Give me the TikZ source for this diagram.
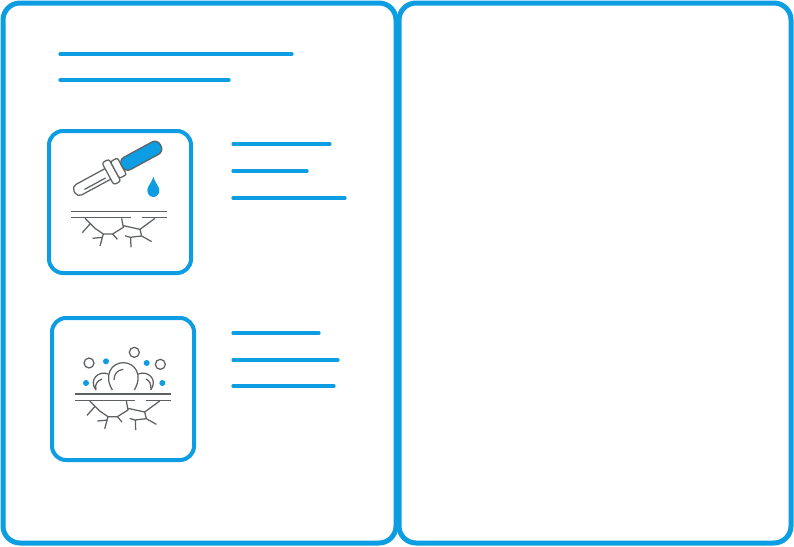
\documentclass[tikz,border=0pt]{standalone}
\definecolor{bl}{HTML}{0D9DE2}
\definecolor{gy}{HTML}{5E6163}
\tikzset{
  frame/.style={draw=bl,line width=5pt,rounded corners=17pt},
  iconbox/.style={draw=bl,line width=4pt,rounded corners=14pt},
  bar/.style={draw=bl,line width=3.2pt,line cap=round},
  ink/.style={draw=gy,line width=1.25pt},
  crack/.pic={
    \draw[ink,line width=1.4pt] (92,274)--(380,274) (92,293)--(272,293) (305,293)--(380,293);
    \draw[ink,line join=round] (135,295)--(165,325)--(190,342)--(218,342)--(250,322)--(245,295)
      (250,317)--(300,328)--(345,295)
      (150,312)--(127,338)
      (190,342)--(180,378) (158,355)--(188,352)
      (218,342)--(232,358)
      (300,328)--(305,348)--(270,352)--(255,347)
      (305,348)--(335,365)
      (272,352)--(273,382);
  }
}
\begin{document}
\begin{tikzpicture}[x=1pt,y=-1pt]
\useasboundingbox (0,0) rectangle (794,546);
\fill[white] (0,0) rectangle (794,546);
\draw[frame] (3,3) rectangle (396,543);
\draw[frame] (399,3) rectangle (791,543);
\draw[bar] (60,54)--(292,54);
\draw[bar] (60,80)--(229,80);
\draw[bar] (233,144)--(330,144);
\draw[bar] (233,171)--(307,171);
\draw[bar] (233,198)--(345,198);
\draw[bar] (233,333)--(319,333);
\draw[bar] (233,360)--(338,360);
\draw[bar] (233,386)--(334,386);
\draw[iconbox] (49,131) rectangle (191,273);
\draw[iconbox] (52,318) rectangle (194,460);
% first icon
\begin{scope}[shift={(40,120)},x=0.3333pt,y=-0.3333pt]
  \pic at (0,0) {crack};
  \fill[bl] (340,170) .. controls (335,190) and (322,198) .. (322,211)
     .. controls (322,224) and (331,231) .. (340,231)
     .. controls (349,231) and (358,224) .. (358,211)
     .. controls (358,198) and (345,190) .. (340,170) -- cycle;
\end{scope}
% dropper
\begin{scope}[shift={(74.5,192)},rotate=28.5]
  \draw[ink,rounded corners=5pt,fill=white] (40,-6)--(0,-6)--(0,6)--(40,6);
  \draw[ink] (10,2.5)--(34,2.5);
  \draw[ink,fill=white,rounded corners=2.5pt] (38,-12.5)rectangle(46,12.5);
  \draw[ink,fill=white,rounded corners=2pt] (46,-9.5)rectangle(54,9.5);
  \draw[ink,fill=bl,rounded corners=6pt] (54,-7)--(98,-7)--(98,7)--(54,7)--cycle;
\end{scope}
% second icon
\begin{scope}[shift={(44.7,302.7)},x=0.3333pt,y=-0.3333pt]
  \pic at (0,0) {crack};
\end{scope}
\begin{scope}[shift={(40,310)},x=0.3333pt,y=-0.3333pt]
  \draw[ink] (147,159) circle (5pt);
  \draw[ink] (283,127) circle (5pt);
  \draw[ink] (361,163) circle (5pt);
  \fill[bl] (198,154) circle (3pt);
  \fill[bl] (320,159) circle (3pt);
  \fill[bl] (138,219) circle (3pt);
  \fill[bl] (367,219) circle (3pt);
  \draw[ink] (217,240) .. controls (190,195) and (215,158) .. (250,158)
     .. controls (285,158) and (310,195) .. (283,240);
  \draw[ink] (222,210) .. controls (222,192) and (232,180) .. (250,178);
  \draw[ink] (168,240) .. controls (145,210) and (175,180) .. (205,192);
  \draw[ink] (168,238) .. controls (163,225) and (172,212) .. (186,207);
  \draw[ink] (295,192) .. controls (325,180) and (355,210) .. (332,240);
  \draw[ink] (318,207) .. controls (328,212) and (334,222) .. (332,235);
\end{scope}
\end{tikzpicture}
\end{document}
